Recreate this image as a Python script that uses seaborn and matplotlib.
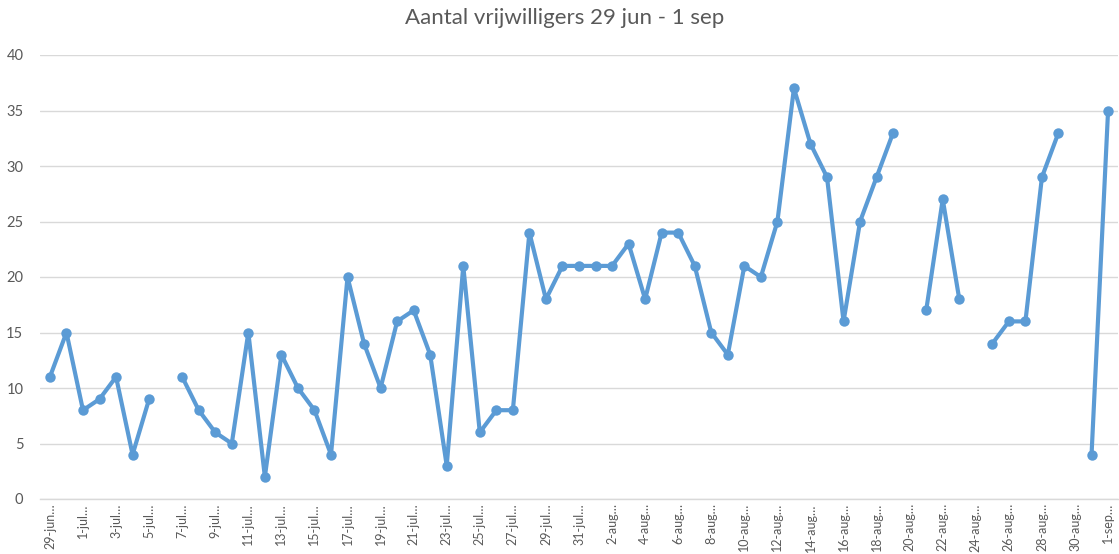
import numpy as np
import pandas as pd
import matplotlib
matplotlib.use("Agg")
import matplotlib.pyplot as plt
import seaborn as sns

# --- data ---
dates = ["29-jun", "30-jun"] + [f"{d}-jul" for d in range(1, 32)] + \
        [f"{d}-aug" for d in range(1, 32)] + ["1-sep"]
nan = np.nan
volunteers = [11, 15, 8, 9, 11, 4, 9, nan, 11, 8, 6, 5, 15, 2, 13, 10, 8, 4,
              20, 14, 10, 16, 17, 13, 3, 21, 6, 8, 8, 24, 18, 21, 21, 21, 21,
              23, 18, 24, 24, 21, 15, 13, 21, 20, 25, 37, 32, 29, 16, 25, 29,
              33, nan, 17, 27, 18, nan, 14, 16, 16, 29, 33, nan, 4, 35]
title = "Aantal vrijwilligers 29 jun - 1 sep"
yticks = [0, 5, 10, 15, 20, 25, 30, 35, 40]

# build table with segment ids so gaps stay gaps
pos = np.arange(len(dates))
vals = np.array(volunteers, dtype=float)
seg = np.cumsum(np.isnan(vals))
df = pd.DataFrame({"pos": pos, "value": vals, "seg": seg}).dropna()

sns.set_theme(style="white")
plt.rcParams["font.family"] = ["Lato", "DejaVu Sans"]

fig = plt.figure(figsize=(11.19, 5.54), dpi=100)
ax = fig.add_axes([40/1119, 1 - 499/554, 1078/1119, 444/554])

color = "#5B9BD5"
sns.lineplot(data=df, x="pos", y="value", units="seg", estimator=None,
             color=color, linewidth=3.0, marker="o", markersize=7.5,
             markeredgewidth=0, ax=ax)

ax.set_xlim(-0.6, len(dates) - 0.4)
ax.set_ylim(0, 40)
ax.set_yticks(yticks)
ax.set_yticklabels([str(t) for t in yticks], fontsize=10.5, color="#595959")
ax.yaxis.grid(True, color="#D9D9D9", linewidth=1)
ax.set_axisbelow(True)

tick_pos = pos[::2]
ax.set_xticks(tick_pos)
ax.set_xticklabels([dates[i] + "…" for i in tick_pos], rotation=90,
                   fontsize=9, color="#595959", va="top")
ax.tick_params(axis="x", length=0, pad=3)
ax.tick_params(axis="y", length=0, pad=12)

for s in ["top", "right", "left"]:
    ax.spines[s].set_visible(False)
ax.spines["bottom"].set_color("#D9D9D9")
ax.spines["bottom"].set_linewidth(1)

ax.set_xlabel("")
ax.set_ylabel("")
fig.suptitle(title, x=0.505, y=0.985, fontsize=16, color="#595959", va="top")

fig.savefig("out.png", dpi=100)
